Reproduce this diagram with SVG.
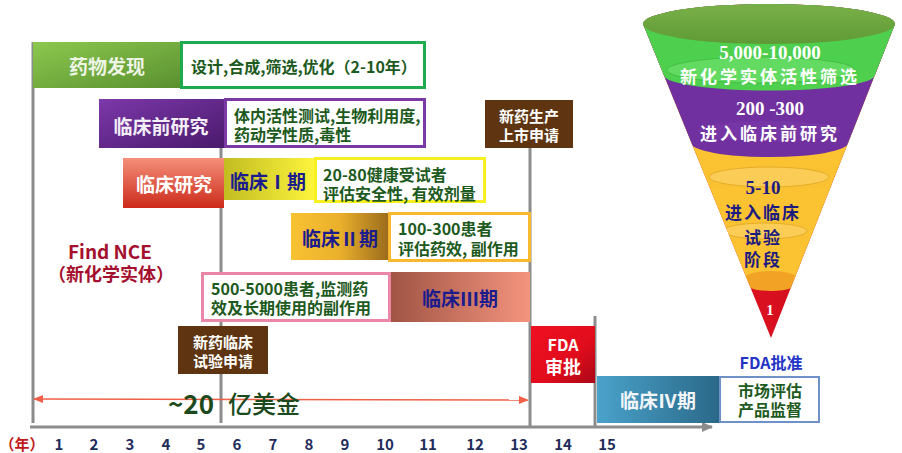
<svg xmlns="http://www.w3.org/2000/svg" width="902" height="453" viewBox="0 0 902 453">
<defs>
<style>
.t{font-family:"Noto Sans CJK SC","Liberation Sans",sans-serif;font-weight:700;dominant-baseline:central;text-anchor:middle}
.ts{font-family:"Noto Sans CJK SC","Liberation Sans",sans-serif;font-weight:700;dominant-baseline:central;text-anchor:start}
.dg{fill:#1d5a1d;font-size:16px}
.wh{fill:#ffffff}
.bl{fill:#1c1c8c}
.ax{fill:#1f2d5c;font-size:15px}
.fn{font-family:"Liberation Serif","Noto Sans CJK SC",serif;font-weight:700;dominant-baseline:central;text-anchor:middle}
.fc{font-family:"Noto Sans CJK SC",serif;font-weight:700;dominant-baseline:central;text-anchor:middle}
.vl{stroke:#8c8c8c;stroke-width:3;fill:none}
.box{fill:#ffffff;stroke-width:3}
</style>
<linearGradient id="gGreen" x1="0" y1="0" x2="1" y2="1"><stop offset="0" stop-color="#8cc84e"/><stop offset="1" stop-color="#5a9030"/></linearGradient>
<linearGradient id="gPurple" x1="0" y1="0" x2="1" y2="1"><stop offset="0" stop-color="#7c38aa"/><stop offset="1" stop-color="#4a1a6c"/></linearGradient>
<linearGradient id="gRed" x1="0" y1="0" x2="0" y2="1"><stop offset="0" stop-color="#f4907a"/><stop offset="1" stop-color="#cc2a1a"/></linearGradient>
<linearGradient id="gYel" x1="0" y1="0" x2="1" y2="0"><stop offset="0" stop-color="#c2bc22"/><stop offset="1" stop-color="#fcf43c"/></linearGradient>
<linearGradient id="gOra" x1="0" y1="0" x2="1" y2="0"><stop offset="0" stop-color="#f8c232"/><stop offset="0.5" stop-color="#eab02c"/><stop offset="1" stop-color="#9c6c1c"/></linearGradient>
<linearGradient id="gSal" x1="0" y1="0" x2="1" y2="0"><stop offset="0" stop-color="#a05444"/><stop offset="1" stop-color="#f4947e"/></linearGradient>
<linearGradient id="gFda" x1="0" y1="0" x2="1" y2="1"><stop offset="0" stop-color="#f01020"/><stop offset="0.6" stop-color="#e00c1c"/><stop offset="1" stop-color="#a80818"/></linearGradient>
<linearGradient id="gBlue" x1="0" y1="0" x2="1" y2="0"><stop offset="0" stop-color="#4aa2ca"/><stop offset="1" stop-color="#2a6888"/></linearGradient>
<linearGradient id="gTop" x1="0" y1="0" x2="0" y2="1"><stop offset="0" stop-color="#7ab048"/><stop offset="1" stop-color="#5e9a36"/></linearGradient>
<linearGradient id="gTip" x1="0" y1="0" x2="1" y2="0"><stop offset="0" stop-color="#f01828"/><stop offset="1" stop-color="#c00818"/></linearGradient>
<clipPath id="cone"><path d="M643,24 L771,338 L895,24 Z"/><ellipse cx="769" cy="24" rx="126" ry="20"/></clipPath>
<marker id="arrR" markerWidth="10" markerHeight="8" refX="9" refY="4" orient="auto" markerUnits="userSpaceOnUse"><path d="M0,0 L10,4 L0,8 Z" fill="#f06048"/></marker>
<marker id="arrL" markerWidth="10" markerHeight="8" refX="1" refY="4" orient="auto" markerUnits="userSpaceOnUse"><path d="M10,0 L0,4 L10,8 Z" fill="#f06048"/></marker>
<marker id="arrAx" markerWidth="12" markerHeight="10" refX="10" refY="5" orient="auto" markerUnits="userSpaceOnUse"><path d="M0,0 L11,5 L0,10 Z" fill="#8c8c8c"/></marker>
</defs>
<rect width="902" height="453" fill="#ffffff"/>

<g id="connectors">
<line class="vl" x1="33" y1="42" x2="33" y2="423"/>
<line class="vl" x1="221" y1="148" x2="221" y2="423"/>
<line class="vl" x1="530" y1="148" x2="530" y2="427"/>
<line class="vl" x1="595" y1="316" x2="595" y2="427"/>
<line class="vl" x1="30" y1="427" x2="712" y2="427" marker-end="url(#arrAx)"/>
<line x1="34" y1="399" x2="528" y2="400" stroke="#f06048" stroke-width="1.5" marker-start="url(#arrL)" marker-end="url(#arrR)"/>
</g>

<g id="discovery">
<rect x="33" y="42" width="148" height="46" fill="url(#gGreen)"/>
<text class="t" x="107" y="65" font-size="19" fill="#eef4e6">药物发现</text>
<rect class="box" x="181.5" y="42.5" width="243" height="45" stroke="#1eaa4e"/>
<text class="ts dg" x="191" y="66">设计,合成,筛选,优化（2-10年）</text>
</g>

<g id="preclinical">
<rect x="99" y="99" width="125" height="49" fill="url(#gPurple)"/>
<text class="t" x="161" y="125" font-size="19" fill="#f4eef8">临床前研究</text>
<rect class="box" x="225.5" y="99.5" width="199" height="47" stroke="#7a3aa6"/>
<text class="ts dg" x="234" y="115">体内活性测试,生物利用度,<tspan x="234" dy="19">药动学性质,毒性</tspan></text>
</g>

<g id="clinical">
<rect x="123" y="158" width="101" height="50" fill="url(#gRed)"/>
<text class="t wh" x="174" y="183" font-size="19">临床研究</text>
</g>

<g id="phase1">
<rect x="224" y="158" width="90" height="42" fill="url(#gYel)"/>
<text class="t bl" x="268" y="180" font-size="19">临床Ⅰ期</text>
<rect class="box" x="315.5" y="158.5" width="169" height="43" stroke="#f6f020"/>
<text class="ts dg" x="323" y="174">20-80健康受试者<tspan x="323" dy="19">评估安全性, 有效剂量</tspan></text>
</g>

<g id="phase2">
<rect x="291" y="213" width="97" height="47" fill="url(#gOra)"/>
<text class="t bl" x="340" y="237" font-size="19">临床Ⅱ期</text>
<rect class="box" x="389.5" y="213.5" width="140" height="47" stroke="#f8b830"/>
<text class="ts dg" x="398" y="228">100-300患者<tspan x="398" dy="20">评估药效, 副作用</tspan></text>
</g>

<g id="phase3">
<rect x="390" y="272" width="140" height="50" fill="url(#gSal)"/>
<text class="t bl" x="460" y="297" font-size="19">临床Ⅲ期</text>
<rect class="box" x="202.5" y="273.5" width="187" height="47" stroke="#ea86a6"/>
<text class="ts dg" x="211" y="288">500-5000患者,监测药<tspan x="211" dy="19">效及长期使用的副作用</tspan></text>
</g>

<g id="ind">
<rect x="178" y="326" width="90" height="48" fill="#5e3510"/>
<text class="t wh" x="223" y="341" font-size="15">新药临床<tspan x="223" dy="19">试验申请</tspan></text>
</g>

<g id="nda">
<rect x="485" y="100" width="88" height="48" fill="#5e3510"/>
<text class="t wh" x="529" y="115" font-size="15">新药生产<tspan x="529" dy="19">上市申请</tspan></text>
</g>

<g id="fda">
<rect x="531" y="326" width="64" height="57" fill="url(#gFda)"/>
<text class="t wh" x="563" y="344" font-size="16">FDA<tspan x="563" dy="22" font-size="18">审批</tspan></text>
</g>

<g id="phase4">
<rect x="597" y="376" width="123" height="47" fill="url(#gBlue)"/>
<text class="t" x="658" y="399" font-size="19" fill="#f2f6fa">临床Ⅳ期</text>
<rect x="720" y="377" width="99" height="45" fill="#ffffff" stroke="#7090c8" stroke-width="2"/>
<text class="t dg" x="770" y="390">市场评估<tspan x="770" dy="19">产品监督</tspan></text>
</g>

<g id="fda-approve">
<text class="t" x="771" y="362" font-size="16" fill="#2434c4">FDA批准</text>
</g>

<g id="nce">
<text class="t" x="110" y="250" font-size="19" fill="#a4102e">Find NCE<tspan x="111" dy="23" font-size="18">（新化学实体）</tspan></text>
</g>

<g id="cost">
<text class="t" x="191" y="402" font-size="26" fill="#1d4a1d">~20</text>
<text class="t" x="264" y="402" font-size="24" fill="#1d4a1d" style="font-weight:500">亿美金</text>
</g>

<g id="axis-labels">
<text class="t" x="22" y="443" font-size="15" fill="#c01818">（年）</text>
<text class="t ax" x="59" y="443">1</text>
<text class="t ax" x="94" y="443">2</text>
<text class="t ax" x="130" y="443">3</text>
<text class="t ax" x="166" y="443">4</text>
<text class="t ax" x="201" y="443">5</text>
<text class="t ax" x="237" y="443">6</text>
<text class="t ax" x="273" y="443">7</text>
<text class="t ax" x="309" y="443">8</text>
<text class="t ax" x="345" y="443">9</text>
<text class="t ax" x="385" y="443">10</text>
<text class="t ax" x="428" y="443">11</text>
<text class="t ax" x="475" y="443">12</text>
<text class="t ax" x="519" y="443">13</text>
<text class="t ax" x="563" y="443">14</text>
<text class="t ax" x="607" y="443">15</text>
</g>

<g id="funnel">
<g clip-path="url(#cone)">
<rect x="630" y="0" width="280" height="345" fill="url(#gTip)"/>
<rect x="630" y="0" width="280" height="281" fill="#fbc232"/>
<ellipse cx="771" cy="281" rx="30" ry="10" fill="#f2a224"/>
<path d="M630,0 H910 V143 H848 A78.5,14 0 0 1 691,143 H630 Z" fill="#7030a0"/>
<ellipse cx="769" cy="131" rx="72" ry="10" fill="#7a3aaa" opacity="0.6"/>
<path d="M630,0 H910 V76 H874.5 A105.2,15 0 0 1 664.2,76 H630 Z" fill="#4ed04e"/>
<ellipse cx="761" cy="70" rx="94" ry="13" fill="#6ade6a" stroke="#44b844" stroke-width="1" opacity="0.8"/>
<ellipse cx="769" cy="24" rx="126" ry="20" fill="url(#gTop)"/>
<ellipse cx="769" cy="177" rx="60" ry="10" fill="#fcd060" stroke="#e0a828" stroke-width="1" opacity="0.8"/>
<ellipse cx="765" cy="231" rx="42" ry="8" fill="#fcd060" stroke="#e0a828" stroke-width="1" opacity="0.8"/>
</g>
<text class="fn wh" x="770" y="52" font-size="19">5,000-10,000</text>
<text class="fc wh" x="770" y="75" font-size="17" letter-spacing="3">新化学实体活性筛选</text>
<text class="fn wh" x="770" y="108" font-size="19">200 -300</text>
<text class="fc wh" x="770" y="132" font-size="17" letter-spacing="3">进入临床前研究</text>
<text class="fn" x="763" y="187" font-size="19" fill="#1c1c80">5-10</text>
<text class="fc" x="763" y="211" font-size="17" fill="#1c1c80" letter-spacing="2">进入临床<tspan x="763" dy="25">试验</tspan><tspan x="763" dy="22">阶段</tspan></text>
<text class="fn wh" x="770" y="310" font-size="15">1</text>
</g>
</svg>
